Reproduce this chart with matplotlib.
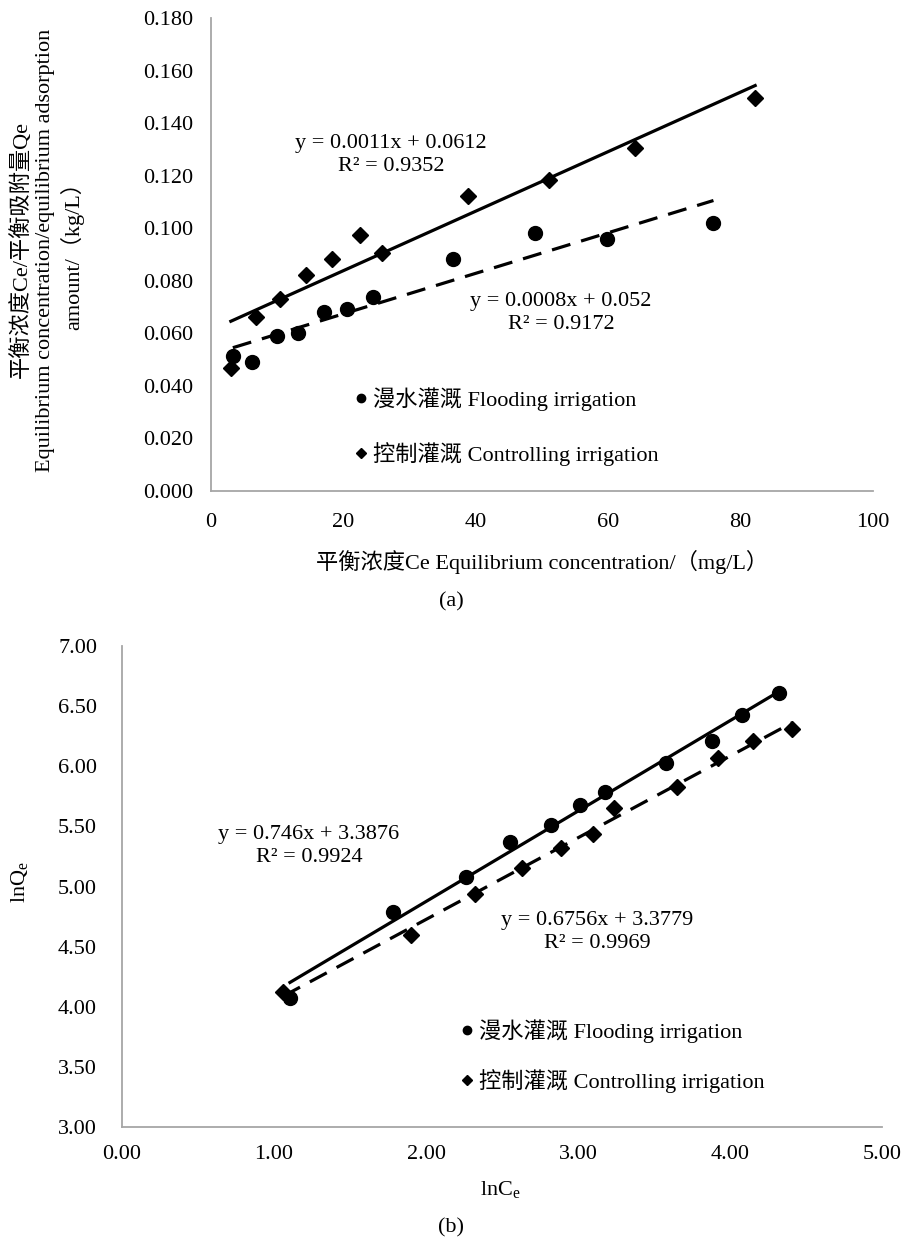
#!/usr/bin/env python3
"""Adsorption isotherms: (a) Ce/Qe vs Ce, (b) lnQe vs lnCe."""

import numpy as np
import matplotlib.pyplot as plt
from matplotlib.ticker import FormatStrFormatter, MultipleLocator

# ============================================================
# Data
# ============================================================
# (a) Ce (mg/L) vs Ce/Qe (kg/L)
flood_ce    = [3.3, 6.2, 9.9, 13.1, 17.0, 20.6, 24.4, 36.5, 48.9, 59.8, 75.9]
flood_ratio = [0.0514, 0.0492, 0.0590, 0.0601, 0.0682, 0.0691, 0.0739, 0.0882, 0.0981, 0.0960, 0.1021]
ctrl_ce     = [3.0, 6.8, 10.4, 14.4, 18.3, 22.5, 25.8, 38.8, 51.1, 64.0, 82.2]
ctrl_ratio  = [0.0468, 0.0662, 0.0731, 0.0822, 0.0883, 0.0974, 0.0906, 0.1123, 0.1183, 0.1305, 0.1495]

# (b) lnCe vs lnQe
flood_lnce = [1.105, 1.78, 2.26, 2.55, 2.82, 3.01, 3.18, 3.58, 3.88, 4.08, 4.32]
flood_lnqe = [4.07, 4.79, 5.08, 5.37, 5.51, 5.68, 5.79, 6.03, 6.21, 6.43, 6.61]
ctrl_lnce  = [1.06, 1.90, 2.32, 2.63, 2.89, 3.10, 3.24, 3.65, 3.92, 4.15, 4.41]
ctrl_lnqe  = [4.12, 4.60, 4.94, 5.15, 5.32, 5.44, 5.65, 5.83, 6.07, 6.21, 6.31]

flood_label = "漫水灌溉 Flooding irrigation"
ctrl_label  = "控制灌溉 Controlling irrigation"

eq_a_ctrl  = "y = 0.0011x + 0.0612\nR² = 0.9352"
eq_a_flood = "y = 0.0008x + 0.052\nR² = 0.9172"
eq_b_flood = "y = 0.746x + 3.3876\nR² = 0.9924"
eq_b_ctrl  = "y = 0.6756x + 3.3779\nR² = 0.9969"

# ============================================================
# Style
# ============================================================
plt.rcParams['font.family'] = ['Liberation Serif', 'Noto Sans CJK SC']
plt.rcParams['mathtext.fontset'] = 'custom'
plt.rcParams['mathtext.rm'] = 'Liberation Serif'
plt.rcParams['mathtext.it'] = 'Liberation Serif:italic'

W, H = 902, 1243
FS = 16


def fx(x):
    return x / W


def fy(y):
    return 1 - y / H


def style_axes(ax, xpad, ypad):
    for s in ['top', 'right']:
        ax.spines[s].set_visible(False)
    for s in ['left', 'bottom']:
        ax.spines[s].set_color('#a6a6a6')
        ax.spines[s].set_linewidth(1.3)
    ax.tick_params(axis='x', length=0, labelsize=FS, pad=xpad)
    ax.tick_params(axis='y', length=0, labelsize=FS, pad=ypad)


def trend(ax, x, y, **kw):
    x = np.asarray(x)
    coef = np.polyfit(x, y, 1)
    xs = np.array([x.min(), x.max()])
    ax.plot(xs, np.polyval(coef, xs), color='black', linewidth=2.3, zorder=2, **kw)


fig = plt.figure(figsize=(W / 100, H / 100), dpi=100)

# ============================================================
# (a)
# ============================================================
ax_a = fig.add_axes([fx(211), fy(491), (873 - 211) / W, (491 - 18) / H])
trend(ax_a, ctrl_ce, ctrl_ratio, linestyle='-')
trend(ax_a, flood_ce, flood_ratio, dashes=(6, 3.5))
h1, = ax_a.plot(flood_ce, flood_ratio, 'o', color='black', markersize=10, zorder=3)
h2, = ax_a.plot(ctrl_ce, ctrl_ratio, 'D', color='black', markersize=8, zorder=3)

ax_a.set_xlim(0, 100)
ax_a.set_ylim(0, 0.18)
ax_a.xaxis.set_major_locator(MultipleLocator(20))
ax_a.yaxis.set_major_locator(MultipleLocator(0.02))
ax_a.yaxis.set_major_formatter(FormatStrFormatter('%.3f'))
style_axes(ax_a, xpad=16, ypad=13)

ax_a.text(fx(391), fy(155), eq_a_ctrl, transform=fig.transFigure, ha='center',
          va='center', fontsize=FS, linespacing=1.35)
ax_a.text(fx(561), fy(313), eq_a_flood, transform=fig.transFigure, ha='center',
          va='center', fontsize=FS, linespacing=1.35)

ax_a.legend([h1, h2], [flood_label, ctrl_label], loc='upper left',
            bbox_to_anchor=(fx(355), fy(387)), bbox_transform=fig.transFigure,
            frameon=False, fontsize=FS, markerscale=0.6, handlelength=0.5,
            handletextpad=0.3, labelspacing=1.4, borderpad=0, borderaxespad=0)

fig.text(fx(47), fy(250),
         "平衡浓度Ce/平衡吸附量Qe\nEquilibrium concentration/equilibrium adsorption\namount/（kg/L）",
         rotation=90, ha='center', va='center', fontsize=FS, linespacing=1.3,
         multialignment='center')
fig.text(fx(542), fy(562), "平衡浓度Ce Equilibrium concentration/（mg/L）",
         ha='center', va='center', fontsize=FS)
fig.text(fx(451), fy(602), "(a)", ha='center', va='center', fontsize=FS)

# ============================================================
# (b)
# ============================================================
ax_b = fig.add_axes([fx(122), fy(1127), (882 - 122) / W, (1127 - 646) / H])
trend(ax_b, flood_lnce, flood_lnqe, linestyle='-')
trend(ax_b, ctrl_lnce, ctrl_lnqe, dashes=(6, 3.5))
g1, = ax_b.plot(flood_lnce, flood_lnqe, 'o', color='black', markersize=10, zorder=3)
g2, = ax_b.plot(ctrl_lnce, ctrl_lnqe, 'D', color='black', markersize=8, zorder=3)

ax_b.set_xlim(0, 5)
ax_b.set_ylim(3, 7)
ax_b.xaxis.set_major_locator(MultipleLocator(1))
ax_b.yaxis.set_major_locator(MultipleLocator(0.5))
ax_b.xaxis.set_major_formatter(FormatStrFormatter('%.2f'))
ax_b.yaxis.set_major_formatter(FormatStrFormatter('%.2f'))
style_axes(ax_b, xpad=13, ypad=18)

ax_b.text(fx(309), fy(846), eq_b_flood, transform=fig.transFigure, ha='center',
          va='center', fontsize=FS, linespacing=1.35)
ax_b.text(fx(597), fy(932), eq_b_ctrl, transform=fig.transFigure, ha='center',
          va='center', fontsize=FS, linespacing=1.3)

ax_b.legend([g1, g2], [flood_label, ctrl_label], loc='upper left',
            bbox_to_anchor=(fx(461), fy(1019)), bbox_transform=fig.transFigure,
            frameon=False, fontsize=FS, markerscale=0.6, handlelength=0.5,
            handletextpad=0.3, labelspacing=1.2, borderpad=0, borderaxespad=0)

fig.text(fx(20), fy(882), r"lnQ$_\mathregular{e}$", rotation=90, ha='center',
         va='center', fontsize=FS)
fig.text(fx(500), fy(1190), r"lnC$_\mathregular{e}$", ha='center', va='center',
         fontsize=FS)
fig.text(fx(451), fy(1228), "(b)", ha='center', va='center', fontsize=FS)

fig.savefig("out.png", dpi=100)
plt.close(fig)
